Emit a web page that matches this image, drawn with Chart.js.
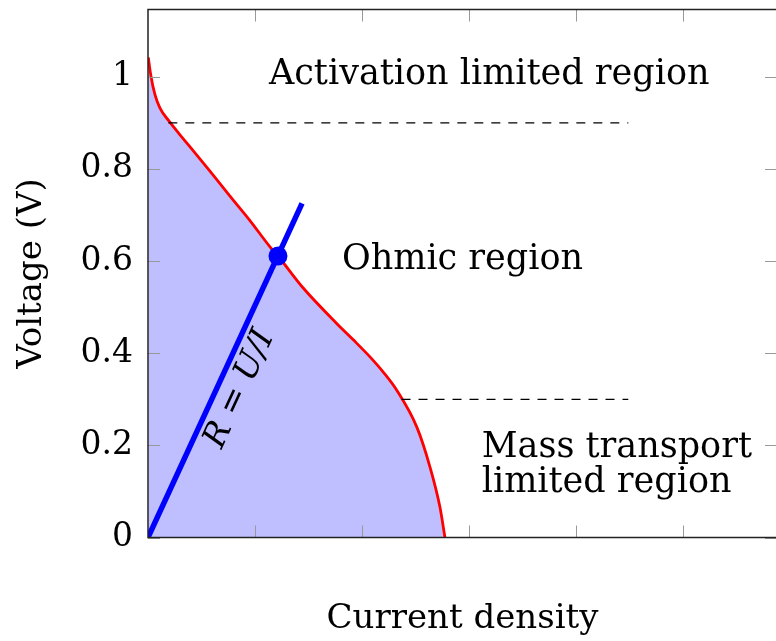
<!DOCTYPE html>
<html>
<head>
<meta charset="utf-8">
<script src="https://cdn.jsdelivr.net/npm/chart.js@4.4.1/dist/chart.umd.min.js"></script>
<style>
  html, body { margin: 0; padding: 0; background: #fff; overflow: hidden; }
  #wrap { width: 790px; height: 641px; }
</style>
</head>
<body>
<div id="wrap"><canvas id="polChart" width="790" height="641"></canvas></div>
<script>
// polarization curve (x in tick units, V in volts)
const curveX = [0.003, 0.025, 0.065, 0.112, 0.199, 0.299, 0.393, 0.579, 0.766, 0.953, 1.140, 1.215, 1.449, 1.766, 1.919, 2.075, 2.199, 2.327, 2.514, 2.636, 2.729, 2.776];
const curveV = [1.042, 1.005, 0.961, 0.932, 0.903, 0.874, 0.848, 0.795, 0.741, 0.688, 0.631, 0.611, 0.542, 0.464, 0.429, 0.392, 0.359, 0.319, 0.239, 0.153, 0.066, 0.0];

// R = U/I line and operating point
const ohmX = [0, 1.44];
const ohmV = [0, 0.725];
const opX = [1.215];
const opV = [0.611];

// region boundaries
const upperDashX = [0.19, 4.49];
const upperDashV = [0.9, 0.9];
const lowerDashX = [2.37, 4.49];
const lowerDashV = [0.3, 0.3];

const xTicks = [1, 2, 3, 4, 5];
const yTicks = [0, 0.2, 0.4, 0.6, 0.8, 1];
const yTickLabels = ['0', '0.2', '0.4', '0.6', '0.8', '1'];

const FONT = "'DejaVu Serif', serif";

const pts = (xs, ys) => xs.map((x, i) => ({ x: x, y: ys[i] }));

// text annotations, in data coordinates
const notes = [
  { lines: ['Activation limited region'], x: 3.19, v: 0.984, align: 'center' },
  { lines: ['Ohmic region'], x: 2.94, v: 0.583, align: 'center' },
  { lines: ['Mass transport', 'limited region'], x: 3.12, v: 0.175, align: 'left' }
];

const decorPlugin = {
  id: 'decor',
  afterDatasetsDraw(chart) {
    const { ctx, chartArea: a, scales: { x, y } } = chart;
    ctx.save();

    // inner ticks on all four sides
    ctx.strokeStyle = '#999';
    ctx.lineWidth = 1;
    ctx.beginPath();
    xTicks.forEach(t => {
      const px = Math.round(x.getPixelForValue(t)) + 0.5;
      ctx.moveTo(px, a.bottom); ctx.lineTo(px, a.bottom - 12);
      ctx.moveTo(px, a.top); ctx.lineTo(px, a.top + 12);
    });
    yTicks.forEach(t => {
      const py = Math.round(y.getPixelForValue(t)) + 0.5;
      ctx.moveTo(a.left, py); ctx.lineTo(a.left + 12, py);
      ctx.moveTo(a.right, py); ctx.lineTo(a.right - 12, py);
    });
    ctx.stroke();

    // frame
    ctx.strokeStyle = '#222';
    ctx.lineWidth = 1.5;
    ctx.strokeRect(a.left, a.top, a.right - a.left, a.bottom - a.top);

    // region labels
    ctx.fillStyle = '#000';
    ctx.font = '35px ' + FONT;
    ctx.textBaseline = 'alphabetic';
    notes.forEach(n => {
      ctx.textAlign = n.align;
      const px = x.getPixelForValue(n.x);
      const py = y.getPixelForValue(n.v);
      n.lines.forEach((s, i) => ctx.fillText(s, px, py + i * 35));
    });

    // R = U/I along the blue line
    const x0 = x.getPixelForValue(ohmX[0]), y0 = y.getPixelForValue(ohmV[0]);
    const x1 = x.getPixelForValue(ohmX[1]), y1 = y.getPixelForValue(ohmV[1]);
    const ang = Math.atan2(y1 - y0, x1 - x0);
    ctx.translate(x.getPixelForValue(0.86), y.getPixelForValue(0.322));
    ctx.rotate(ang);
    ctx.textAlign = 'center';
    ctx.textBaseline = 'middle';
    ctx.font = 'italic 33px ' + FONT;
    ctx.fillText('R = U/I', 0, 0);
    ctx.restore();
  }
};

new Chart(document.getElementById('polChart'), {
  type: 'scatter',
  data: {
    datasets: [
      {
        data: pts(opX, opV),
        pointRadius: 9.5,
        pointBackgroundColor: '#0000ff',
        pointBorderWidth: 0,
        showLine: false
      },
      {
        data: pts(ohmX, ohmV),
        showLine: true,
        borderColor: '#0000ff',
        borderWidth: 5.5,
        pointRadius: 0
      },
      {
        data: pts(upperDashX, upperDashV),
        showLine: true,
        borderColor: '#000',
        borderWidth: 1.2,
        borderDash: [9, 8],
        pointRadius: 0
      },
      {
        data: pts(lowerDashX, lowerDashV),
        showLine: true,
        borderColor: '#000',
        borderWidth: 1.2,
        borderDash: [9, 8],
        pointRadius: 0
      },
      {
        data: pts(curveX, curveV),
        showLine: true,
        borderColor: '#ff0000',
        borderWidth: 2.8,
        backgroundColor: 'rgb(191,191,255)',
        fill: 'origin',
        cubicInterpolationMode: 'monotone',
        pointRadius: 0
      }
    ]
  },
  options: {
    responsive: false,
    animation: false,
    devicePixelRatio: 1,
    layout: { padding: { top: 8, right: 13, left: 0, bottom: 0 } },
    plugins: { legend: { display: false }, tooltip: { enabled: false } },
    scales: {
      x: {
        type: 'linear',
        min: 0,
        max: 5.88,
        grid: { display: false },
        border: { display: false },
        ticks: { display: false },
        title: {
          display: true,
          text: 'Current density',
          color: '#000',
          font: { family: FONT, size: 34 },
          padding: { top: 0, bottom: 1 }
        },
        afterFit: s => { s.height = 103.5; s.paddingLeft = 0; s.paddingRight = 0; }
      },
      y: {
        min: 0,
        max: 1.146,
        grid: { display: false, drawTicks: false },
        border: { display: false },
        afterBuildTicks: s => { s.ticks = yTicks.map(v => ({ value: v })); },
        ticks: {
          color: '#000',
          padding: 15,
          font: { family: FONT, size: 33 },
          callback: v => yTickLabels[yTicks.indexOf(v)]
        },
        title: {
          display: true,
          text: 'Voltage (V)',
          color: '#000',
          font: { family: FONT, size: 34 },
          padding: { top: 12, bottom: 0 }
        },
        afterFit: s => { s.width = 148; s.paddingTop = 0; s.paddingBottom = 0; }
      }
    }
  },
  plugins: [decorPlugin]
});
</script>
</body>
</html>
